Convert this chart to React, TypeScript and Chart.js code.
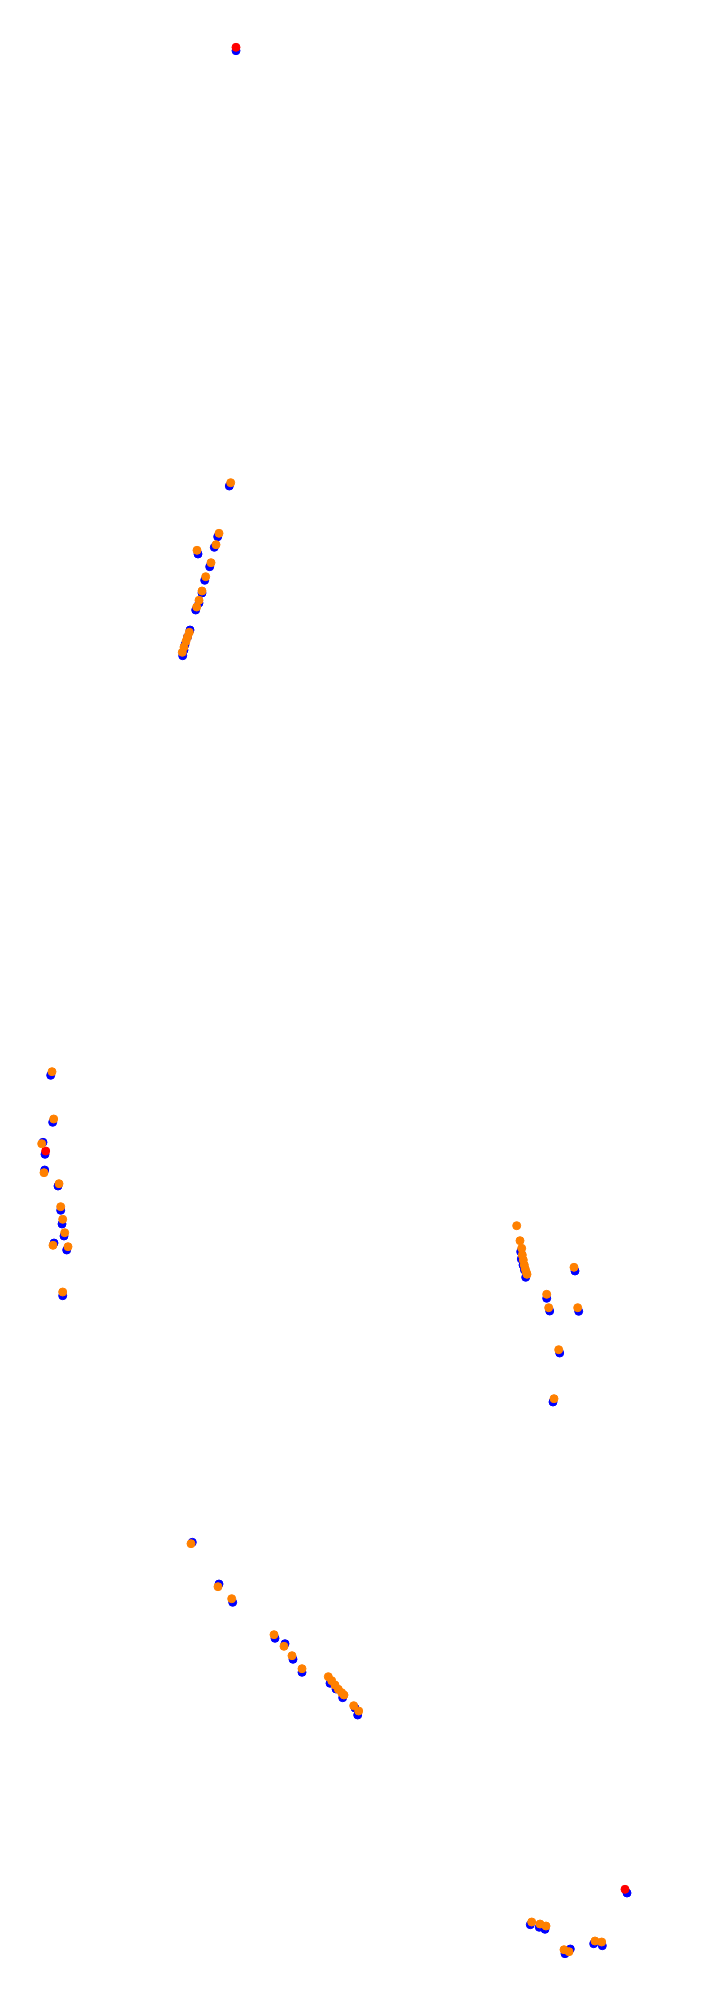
import React, { useEffect, useRef } from "react";
import { Chart, registerables } from "chart.js";

Chart.register(...registerables);

// Positions (x to the right, y downward)
const blueX = [236, 229.3, 217.7, 214.3, 198, 209.7, 204.7, 202, 199, 195.7, 190, 187.5, 185, 184, 182.7,
  50.7, 52.7, 43, 45, 44.7, 58, 60.7, 62, 64, 54, 66.7, 62.7,
  520.7, 521.3, 523, 524.5, 525.7, 575, 546.7, 549.7, 578.7, 559.7, 553,
  192.3, 219, 232.7, 275, 285, 293, 302, 330, 336, 342.7, 355, 357.7,
  627, 530.3, 539.3, 545, 565, 570.3, 593.7, 602.3];
const blueY = [50.7, 486, 536.7, 547.3, 554, 566.7, 580.3, 593, 603, 610, 630, 637, 644.7, 650, 655.7,
  1075.3, 1122.3, 1142.3, 1154.3, 1170, 1186, 1210.3, 1224, 1236, 1243, 1250, 1295.7,
  1251.7, 1259, 1265, 1270, 1277.3, 1271, 1298.3, 1311, 1311.3, 1353, 1402,
  1542.3, 1584, 1602.3, 1638.3, 1643.7, 1659.3, 1672.3, 1683.3, 1689, 1697.7, 1708, 1715,
  1893, 1924.7, 1927.3, 1929.3, 1953.7, 1949, 1943.7, 1945.7];

const orangeX = [230.7, 219, 216, 197, 211, 205.7, 202, 199, 196.7, 189.3, 187.5, 186, 184, 182.3,
  52, 53.7, 41.7, 44, 59, 60.7, 62.7, 64.7, 53, 68, 62.7,
  516.7, 520, 521.7, 522.3, 523.3, 524.3, 525.3, 526.3, 527, 574, 546.7, 548.7, 577.7, 558.7, 554,
  191, 218, 231.7, 274, 284, 292, 302, 328.3, 331.7, 335, 338.3, 341.7, 344, 353.7, 358.7,
  531.7, 540, 546, 564, 569, 595, 601.7];
const orangeY = [482.7, 533.3, 544.7, 550.3, 562.7, 576.7, 591, 600.3, 607, 632.3, 637, 641.3, 647, 652.3,
  1071.7, 1119, 1143.7, 1172.7, 1183.7, 1206.7, 1219.3, 1232.7, 1245.3, 1246.7, 1292,
  1225.7, 1240.7, 1248.3, 1255, 1260, 1265, 1269, 1272.3, 1274.3, 1267.3, 1294.3, 1307.7, 1307.7, 1349.7, 1398.7,
  1543.7, 1586.7, 1598.7, 1634.7, 1646.3, 1655.7, 1668.7, 1676.7, 1680.7, 1685, 1689.3, 1692.7, 1695, 1705.7, 1711,
  1922, 1924, 1926, 1949.7, 1951.7, 1941, 1942];

const redX = [236, 45.7, 625];
const redY = [47.3, 1151, 1889.3];

const toPoints = (xs: number[], ys: number[]) => xs.map((x, i) => ({ x, y: ys[i] }));

export default function App() {
  const ref = useRef<HTMLCanvasElement | null>(null);
  useEffect(() => {
    if (!ref.current) return;
    const chart = new Chart(ref.current, {
      type: "scatter",
      data: {
        datasets: [
          { label: "orange", data: toPoints(orangeX, orangeY), backgroundColor: "#ff8000", borderColor: "#ff8000", borderWidth: 1, pointRadius: 4, order: 0 },
          { label: "red", data: toPoints(redX, redY), backgroundColor: "#ff0000", borderColor: "#ff0000", borderWidth: 1, pointRadius: 4, order: 1 },
          { label: "blue", data: toPoints(blueX, blueY), backgroundColor: "#0000ff", borderColor: "#0000ff", borderWidth: 1, pointRadius: 4, order: 2 },
        ],
      },
      options: {
        animation: false,
        responsive: false,
        maintainAspectRatio: false,
        layout: { padding: 0, autoPadding: false },
        plugins: { legend: { display: false }, tooltip: { enabled: false } },
        scales: {
          x: { type: "linear", min: 0, max: 711, display: false },
          y: { type: "linear", min: 0, max: 2000, reverse: true, display: false },
        },
      },
    });
    return () => chart.destroy();
  }, []);
  return (
    <div style={{ position: "absolute", left: 0, top: 0, width: 711, height: 2000, background: "#fff" }}>
      <canvas ref={ref} width={711} height={2000} style={{ display: "block", width: 711, height: 2000 }} />
    </div>
  );
}
